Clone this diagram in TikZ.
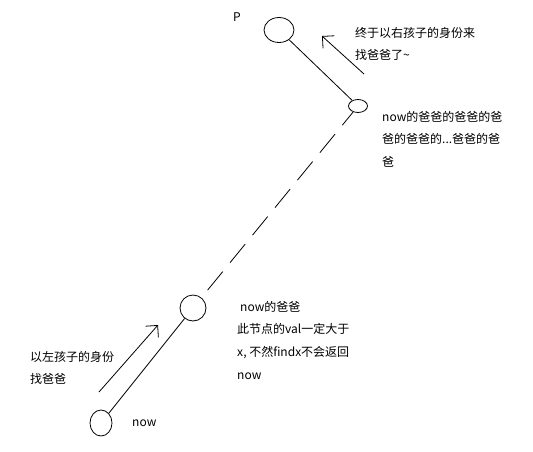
\documentclass[tikz,border=0pt]{standalone}
\usepackage{fontspec}
\setmainfont{Noto Sans CJK SC}
\usetikzlibrary{shapes.geometric,arrows.meta}
\begin{document}
\begin{tikzpicture}[x=1pt,y=-1pt,
  treenode/.style={draw,ellipse,line width=0.8pt,inner sep=0pt},
  edge/.style={line width=0.8pt},
  farjump/.style={edge,dash pattern=on 24pt off 11.5pt,dash phase=7pt},
  climb/.style={line width=0.8pt,-{Straight Barb[length=8.5pt,width=17pt,line width=0.8pt]}},
  note/.style={anchor=base west,inner sep=0pt,font=\fontsize{12}{14}\selectfont}]
\useasboundingbox (0,0) rectangle (533,451);

% tree nodes along the path from now up to P
\node[treenode,minimum width=30pt,minimum height=25pt] (p)   at (279,30)  {};
\node[treenode,minimum width=19pt,minimum height=13pt] (anc) at (358,106) {};
\node[treenode,minimum width=26pt,minimum height=26pt] (par) at (193,308) {};
\node[treenode,minimum width=22pt,minimum height=26pt] (now) at (101,423) {};

\draw[edge]    (p) -- (anc);
\draw[farjump] (anc) -- (par);
\draw[edge]    (par) -- (now);

% climbing arrows
\coordinate (r0) at (364,74);
\coordinate (r1) at (322,36);
\coordinate (l0) at (99,392);
\coordinate (l1) at (158,325);
\draw[climb] (r0) -- (r1);
\draw[climb] (l0) -- (l1);

% labels
\node[note] (tp)  at (233,21.5) {P};
\node[note] (t1a) at (355,37.5) {终于以右孩子的身份来};
\node[note] (t1b) at (355,59.5) {找爸爸了\char"7E};
\node[note] (t2a) at (382,121.5) {now的爸爸的爸爸的爸};
\node[note] (t2b) at (382,143) {爸的爸爸的...爸爸的爸};
\node[note] (t2c) at (382,166) {爸};
\node[note] (t3a) at (240,311.5) {now的爸爸};
\node[note] (t3b) at (237,333.5) {此节点的val一定大于};
\node[note] (t3c) at (237,356.5) {x, 不然findx不会返回};
\node[note] (t3d) at (237,379.5) {now};
\node[note] (t4a) at (30,361.5) {以左孩子的身份};
\node[note] (t4b) at (30,383.5) {找爸爸};
\node[note] (t5)  at (132,426.5) {now};
\end{tikzpicture}
\end{document}
